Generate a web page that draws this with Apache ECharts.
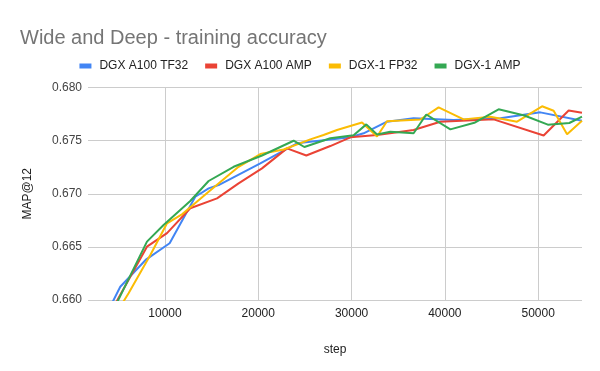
<!DOCTYPE html>
<html><head><meta charset="utf-8">
<script src="https://cdn.jsdelivr.net/npm/echarts@6/dist/echarts.min.js"></script>
<style>html,body{margin:0;padding:0;background:#fff}#c{width:600px;height:371px}</style>
</head><body><div id="c"></div>
<script>
var seriesNames = ['DGX A100 TF32', 'DGX A100 AMP', 'DGX-1 FP32', 'DGX-1 AMP'];
var xTicks = [10000, 20000, 30000, 40000, 50000];
var yTicks = [0.660, 0.665, 0.670, 0.675, 0.680];

var tf32Steps = [1750, 5210, 8000, 10500, 13250, 14680, 15750, 20220, 24150, 29870, 31290, 33800, 36650, 40940, 45950, 50230, 54700];
var tf32Acc   = [0.6552, 0.66125, 0.66383, 0.66534, 0.66972, 0.67051, 0.67082, 0.67286, 0.67475, 0.67531, 0.67569, 0.67678, 0.67710, 0.67694, 0.67710, 0.67766, 0.67687];

var a100AmpSteps = [1750, 8070, 10220, 12710, 15580, 17890, 20400, 23080, 25150, 27720, 29870, 32730, 34510, 36650, 39510, 45230, 50590, 53270, 54700];
var a100AmpAcc   = [0.6550, 0.66502, 0.66630, 0.66863, 0.66957, 0.67098, 0.67239, 0.67427, 0.67360, 0.67449, 0.67531, 0.67553, 0.67574, 0.67600, 0.67678, 0.67700, 0.67548, 0.67783, 0.67762];

var fp32Steps = [1750, 6100, 8430, 10220, 11860, 14680, 17890, 20220, 22720, 25580, 27000, 28440, 31120, 32730, 33800, 37370, 39330, 42010, 44870, 47740, 50420, 51660, 53100, 54700];
var fp32Acc   = [0.6545, 0.66063, 0.66423, 0.66722, 0.66809, 0.67019, 0.67254, 0.67374, 0.67416, 0.67512, 0.67553, 0.67600, 0.67670, 0.67539, 0.67682, 0.67699, 0.67813, 0.67700, 0.67725, 0.67678, 0.67823, 0.67781, 0.67559, 0.67687];

var dgx1AmpSteps = [1750, 8070, 9850, 12710, 14680, 17360, 20400, 23790, 24940, 27720, 30220, 31580, 32730, 34150, 36650, 38010, 40590, 43160, 45760, 48520, 51040, 53340, 54700];
var dgx1AmpAcc   = [0.6542, 0.66549, 0.66706, 0.66932, 0.67120, 0.67254, 0.67360, 0.67499, 0.67440, 0.67522, 0.67550, 0.67653, 0.67557, 0.67584, 0.67569, 0.67746, 0.67606, 0.67668, 0.67795, 0.67736, 0.67650, 0.67666, 0.67725];

var colors = ['#4285F4', '#EA4335', '#FBBC04', '#34A853'];

function pairs(xs, ys) { return xs.map(function (x, i) { return [x, ys[i]]; }); }
var allSteps = [tf32Steps, a100AmpSteps, fp32Steps, dgx1AmpSteps];
var allAcc = [tf32Acc, a100AmpAcc, fp32Acc, dgx1AmpAcc];
var FONT = 'Liberation Sans, Arial, sans-serif';

var chart = echarts.init(document.getElementById('c'), null, { renderer: 'canvas' });
chart.setOption({
  animation: false,
  color: colors,
  title: {
    text: 'Wide and Deep - training accuracy',
    left: 15, top: 23,
    textStyle: { fontFamily: FONT, fontSize: 20, fontWeight: 'normal', color: '#757575' }
  },
  legend: {
    data: seriesNames,
    top: 55, left: 'center',
    itemWidth: 12, itemHeight: 5, itemGap: 17,
    icon: 'rect',
    textStyle: { fontFamily: FONT, fontSize: 12, color: '#222', padding: [0, 0, 0, 3] }
  },
  grid: { left: 88, right: 18, top: 87.5, bottom: 71, containLabel: false },
  xAxis: {
    type: 'value', min: 1750, max: 54700,
    name: 'step', nameLocation: 'middle', nameGap: 44,
    nameTextStyle: { fontFamily: FONT, fontSize: 12, color: '#222' },
    axisLine: { show: false },
    axisTick: { show: false, customValues: xTicks },
    axisLabel: { customValues: xTicks, fontFamily: FONT, fontSize: 12, color: '#222', margin: 8,
      formatter: function (v) { return String(Math.round(v)); } },
    splitLine: { show: true, lineStyle: { color: '#cccccc', width: 1 } }
  },
  yAxis: {
    type: 'value', min: 0.660, max: 0.680, interval: 0.005,
    name: 'MAP@12', nameLocation: 'middle', nameGap: 54,
    nameTextStyle: { fontFamily: FONT, fontSize: 12, color: '#222' },
    axisLine: { show: false }, axisTick: { show: false },
    axisLabel: { fontFamily: FONT, fontSize: 12, color: '#444', margin: 6,
      formatter: function (v) { return v.toFixed(3); } },
    splitLine: { show: true, lineStyle: { color: '#cccccc', width: 1 } }
  },
  series: seriesNames.map(function (n, i) {
    return {
      name: n, type: 'line', data: pairs(allSteps[i], allAcc[i]),
      showSymbol: false, clip: true,
      lineStyle: { width: 2, color: colors[i] },
      itemStyle: { color: colors[i] }
    };
  })
});
</script></body></html>
